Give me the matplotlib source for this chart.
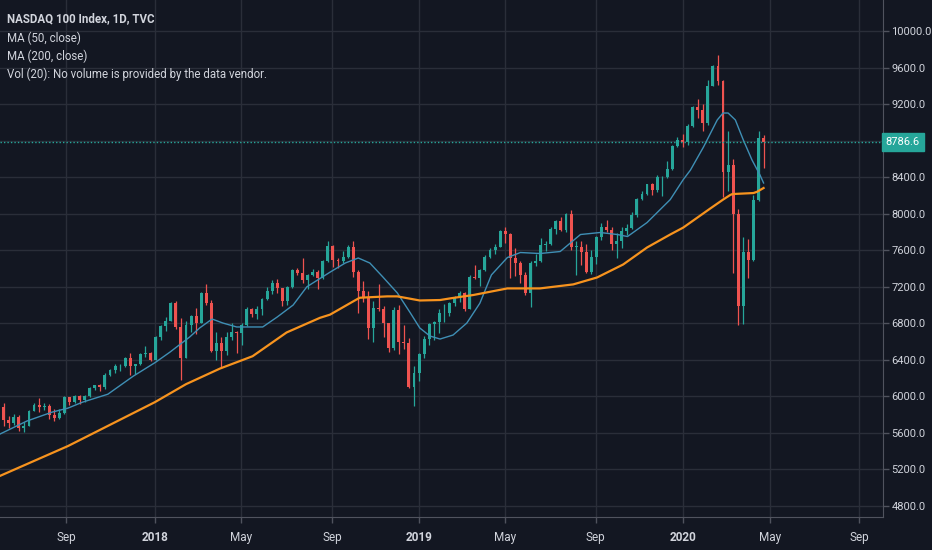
import matplotlib
matplotlib.use("Agg")
import matplotlib.pyplot as plt
import matplotlib.dates as mdates
import numpy as np
import pandas as pd

plt.rcParams["font.family"] = ["Roboto", "DejaVu Sans"]

# weekly bars (Friday closes), open = previous close
first_open = 5800
close_2017 = [5880, 5742, 5710, 5780, 5650, 5680, 5840, 5910, 5880, 5900, 5800, 5760, 5820, 5990, 5940, 6000,
              5960, 6000, 6090, 6120, 6100, 6230, 6290, 6330, 6330, 6420, 6330, 6350, 6460, 6470, 6400]
high_2017 = [5900, 5930, 5790, 5810, 5800, 5720, 5850, 5930, 5980, 5930, 5920, 5860, 5860, 6000, 5990, 6020,
             6010, 6010, 6100, 6130, 6140, 6260, 6300, 6350, 6350, 6430, 6470, 6360, 6480, 6550, 6490]
low_2017 = [5780, 5680, 5650, 5690, 5620, 5610, 5680, 5840, 5830, 5850, 5750, 5730, 5750, 5810, 5910, 5930,
            5920, 5940, 5990, 6070, 6060, 6080, 6220, 6260, 6280, 6320, 6230, 6250, 6340, 6430, 6390]

close_2018 = [6650, 6770, 6830, 7020, 6760, 6420, 6780, 6880, 6800, 7130, 7020, 6500, 6580, 6500, 6650, 6710,
              6690, 6780, 6960, 6900, 6960, 7070, 7150, 7240, 7190, 7040, 7200, 7380, 7350, 7270, 7330, 7360,
              7300, 7480, 7650, 7490, 7480, 7530, 7630, 7360, 7150, 7080, 6750, 6970, 6960, 6800, 6530, 6950,
              6600, 6580, 6100, 6260]
high_2018 = [6660, 6780, 6870, 7030, 7040, 6860, 6820, 6890, 6970, 7140, 7230, 7050, 6700, 6650, 6700, 6800,
             6720, 6800, 6980, 6970, 6990, 7080, 7200, 7270, 7280, 7190, 7210, 7390, 7410, 7510, 7340, 7400,
             7380, 7490, 7700, 7660, 7510, 7590, 7660, 7700, 7380, 7260, 7150, 7040, 7230, 6990, 6790, 6980,
             7000, 6780, 6640, 6330]
low_2018 = [6400, 6620, 6720, 6820, 6740, 6180, 6420, 6700, 6680, 6800, 7000, 6490, 6400, 6310, 6450, 6620,
            6480, 6560, 6770, 6870, 6850, 6890, 7060, 7120, 7130, 6990, 7000, 7190, 7330, 7240, 7180, 7320,
            7180, 7290, 7470, 7420, 7410, 7460, 7520, 7310, 6910, 7030, 6630, 6600, 6940, 6650, 6490, 6510,
            6460, 6520, 6090, 5900]

close_2019 = [6460, 6630, 6790, 6810, 6910, 6910, 7020, 7080, 7130, 6960, 7310, 7300, 7380, 7530, 7600, 7640,
              7810, 7780, 7510, 7460, 7330, 7130, 7460, 7480, 7660, 7670, 7830, 7920, 7820, 8000, 7640, 7640,
              7580, 7360, 7530, 7740, 7850, 7820, 7670, 7700, 7810, 7840, 7990, 8160, 8220, 8320, 8260, 8400,
              8400, 8490, 8740, 8810]
high_2019 = [6480, 6660, 6800, 6830, 6960, 7010, 7030, 7100, 7150, 7140, 7330, 7440, 7400, 7550, 7620, 7670,
             7820, 7850, 7790, 7620, 7480, 7360, 7480, 7560, 7730, 7700, 7850, 7930, 7960, 8010, 8040, 7700,
             7700, 7670, 7600, 7760, 7900, 7930, 7850, 7790, 7850, 7890, 8020, 8170, 8250, 8330, 8340, 8420,
             8410, 8580, 8750, 8840]
low_2019 = [6170, 6420, 6560, 6620, 6690, 6810, 6880, 6990, 7030, 6940, 6960, 7290, 7210, 7370, 7510, 7560,
            7630, 7680, 7300, 7320, 7240, 7110, 6980, 7430, 7470, 7590, 7660, 7780, 7810, 7800, 7600, 7330,
            7440, 7350, 7340, 7450, 7710, 7800, 7600, 7510, 7620, 7770, 7830, 7960, 8150, 8200, 8210, 8240,
            8190, 8390, 8480, 8730]

close_2020 = [8790, 8960, 9170, 9140, 8990, 9400, 9620, 9450, 8460, 8530, 8000, 6990, 7580, 7490, 8150, 8830, 8786.6]
high_2020 = [8870, 8980, 9180, 9260, 9200, 9460, 9630, 9740, 9460, 8900, 8600, 8050, 7750, 7720, 8200, 8900, 8860]
low_2020 = [8730, 8750, 8950, 9050, 8900, 8970, 9400, 9410, 8180, 8250, 7350, 6780, 6790, 7300, 7480, 8140, 8500]

last_price = 8786.6

# moving averages
ma50_dates = ["2017-06-02", "2017-07-09", "2017-08-13", "2017-09-04", "2017-09-24", "2017-10-29", "2017-12-03",
              "2018-01-03", "2018-01-23", "2018-02-19", "2018-03-05", "2018-03-22", "2018-04-06", "2018-04-25",
              "2018-05-17", "2018-05-31", "2018-06-20", "2018-07-12", "2018-07-31", "2018-09-01", "2018-09-22",
              "2018-10-10", "2018-10-26", "2018-11-13", "2018-12-03", "2018-12-21", "2019-01-03", "2019-01-17",
              "2019-01-31", "2019-02-18", "2019-03-09", "2019-03-27", "2019-04-12", "2019-05-04", "2019-05-22",
              "2019-06-18", "2019-07-16", "2019-08-13", "2019-09-09", "2019-10-03", "2019-10-17", "2019-11-13",
              "2019-12-15", "2020-01-02", "2020-01-12", "2020-01-30", "2020-02-18", "2020-02-26", "2020-03-04",
              "2020-03-14", "2020-03-25", "2020-04-06", "2020-04-17", "2020-04-22"]
ma50_values = [5588, 5730, 5828, 5872, 5937, 6024, 6221, 6374, 6486, 6650, 6750, 6847, 6803, 6760, 6760, 6760,
               6869, 7000, 7200, 7360, 7460, 7515, 7460, 7307, 7132, 6913, 6749, 6661, 6628, 6672, 6803, 7020,
               7330, 7520, 7575, 7564, 7586, 7772, 7794, 7772, 7750, 7903, 8154, 8373, 8478, 8730, 9026, 9102,
               9102, 9026, 8807, 8588, 8424, 8336]

ma200_dates = ["2017-06-02", "2017-09-04", "2018-01-02", "2018-02-14", "2018-04-02", "2018-05-17", "2018-07-03",
               "2018-08-18", "2018-09-01", "2018-10-03", "2018-10-12", "2018-11-19", "2018-12-03", "2019-01-03",
               "2019-01-31", "2019-02-14", "2019-03-18", "2019-05-04", "2019-06-18", "2019-08-03", "2019-09-05",
               "2019-10-11", "2019-11-13", "2019-12-15", "2020-01-02", "2020-02-08", "2020-02-26", "2020-03-07",
               "2020-03-10", "2020-04-08", "2020-04-13", "2020-04-22"]
ma200_values = [5130, 5457, 5937, 6134, 6305, 6440, 6700, 6860, 6895, 7040, 7080, 7095, 7095, 7050, 7055, 7073,
                7110, 7182, 7182, 7226, 7302, 7444, 7630, 7772, 7848, 8055, 8154, 8205, 8215, 8226, 8240, 8281]

tick_dates = ["2017-09-01", "2018-01-02", "2018-05-01", "2018-09-04", "2019-01-02", "2019-05-01",
              "2019-09-03", "2020-01-02", "2020-05-01", "2020-09-01"]
tick_labels = ["Sep", "2018", "May", "Sep", "2019", "May", "Sep", "2020", "May", "Sep"]

legend_lines = ["NASDAQ 100 Index, 1D, TVC", "MA (50, close)", "MA (200, close)",
                "Vol (20): No volume is provided by the data vendor."]

BG = "#131722"
GRID = "#2a2e39"
UP = "#26a69a"
DOWN = "#ef5350"
TXT = "#d1d4dc"

weeks = pd.date_range("2017-06-02", "2020-04-24", freq="W-FRI")
x = mdates.date2num(weeks - pd.Timedelta(days=2))
close = np.array(close_2017 + close_2018 + close_2019 + close_2020, dtype=float)
high = np.array(high_2017 + high_2018 + high_2019 + high_2020, dtype=float)
low = np.array(low_2017 + low_2018 + low_2019 + low_2020, dtype=float)
opens = np.concatenate([[first_open], close[:-1]])
colors = np.where(close >= opens, UP, DOWN)

fig = plt.figure(figsize=(9.32, 5.5), dpi=100, facecolor=BG)
ax = fig.add_axes([0, 33 / 550, 883 / 932, 517 / 550], facecolor=BG)

ax.vlines(x, low, high, colors=colors, lw=0.9, zorder=3)
ax.bar(x, np.maximum(np.abs(close - opens), 6), bottom=np.minimum(opens, close), width=4.0,
       color=colors, linewidth=0, zorder=4)

ax.plot(mdates.date2num(pd.to_datetime(ma50_dates)), ma50_values, color="#3f8fb5", lw=1.0, zorder=5)
ax.plot(mdates.date2num(pd.to_datetime(ma200_dates)), ma200_values, color="#f7931e", lw=1.6, zorder=5)

ax.axhline(last_price, color=UP, lw=1.0, linestyle=(0, (1, 1.5)), zorder=6)

ax.set_xlim(mdates.date2num(pd.Timestamp("2017-06-02")), mdates.date2num(pd.Timestamp("2020-10-04")))
ax.set_ylim(4680, 10339)

yt = np.arange(4800, 10001, 400)
ax.set_yticks(yt)
ax.set_yticklabels(["" if v == 8800 else f"{v:.1f}" for v in yt])
ax.yaxis.tick_right()
ax.set_xticks(mdates.date2num(pd.to_datetime(tick_dates)))
ax.set_xticklabels(tick_labels)
for lab in ax.get_xticklabels():
    if lab.get_text().isdigit():
        lab.set_fontweight("bold")

ax.tick_params(axis="y", colors="#50535e", labelcolor=TXT, length=4, width=1, pad=2, labelsize=8)
ax.tick_params(axis="x", colors="#50535e", labelcolor=TXT, length=4, width=1, pad=6, labelsize=8.5)
ax.grid(True, color=GRID, lw=1, zorder=0)
for side in ["top", "left"]:
    ax.spines[side].set_visible(False)
for side in ["right", "bottom"]:
    ax.spines[side].set_color("#50535e")

ax.annotate(f"{last_price:.1f}", xy=(1, last_price), xycoords=("axes fraction", "data"),
            xytext=(2, 0), textcoords="offset points", ha="left", va="center", color="white",
            fontsize=8, annotation_clip=False,
            bbox=dict(boxstyle="square,pad=0.35", fc=UP, ec=UP))

ys = [19, 38, 56, 74]
for i, (t, yy) in enumerate(zip(legend_lines, ys)):
    fig.text(7 / 932, 1 - yy / 550, t, color=TXT, fontsize=8.3, va="center", ha="left",
             fontweight="bold" if i == 0 else "normal")

fig.savefig("out.png", dpi=100, facecolor=BG)
